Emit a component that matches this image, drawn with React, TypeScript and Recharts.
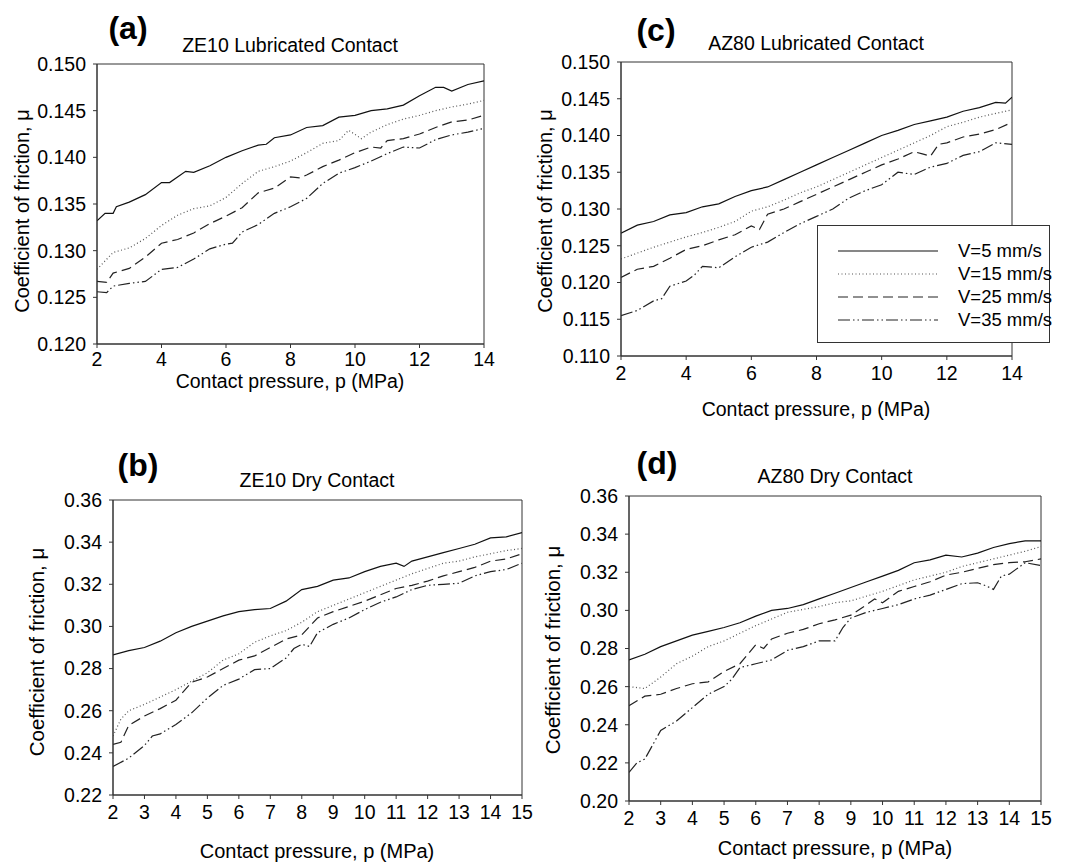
import React from 'react';
import { LineChart, Line, XAxis, YAxis, ReferenceArea, Legend } from 'recharts';

type Pt = [number, number];

// ---------- Series names ----------
const SERIES_NAMES = ['V=5 mm/s', 'V=15 mm/s', 'V=25 mm/s', 'V=35 mm/s'];

// ---------- (a) ZE10 Lubricated ----------
const A_V5: Pt[] = [[2,.1332],[2.25,.1340],[2.5,.1340],[2.6,.1347],[3,.1352],[3.5,.1360],[4,.1373],[4.25,.1373],[4.75,.1385],[5,.1384],[5.5,.1391],[6,.1400],[6.5,.1407],[7,.1413],[7.25,.1414],[7.5,.1421],[8,.1424],[8.5,.1432],[9,.1434],[9.5,.1443],[10,.1445],[10.5,.1450],[11,.1452],[11.5,.1456],[12,.1466],[12.5,.1475],[12.75,.1475],[13,.1471],[13.5,.1478],[14,.1482]];
const A_V15: Pt[] = [[2,.1280],[2.5,.1298],[3,.1303],[3.5,.1313],[4,.1327],[4.5,.1338],[5,.1345],[5.5,.1348],[6,.1357],[6.5,.1372],[7,.1385],[7.5,.1390],[8,.1396],[8.5,.1405],[9,.1415],[9.5,.1418],[9.8,.1429],[10.2,.1420],[10.5,.1427],[11,.1435],[11.5,.1441],[12,.1445],[12.5,.1450],[13,.1454],[13.5,.1457],[14,.1461]];
const A_V25: Pt[] = [[2,.1267],[2.3,.1266],[2.5,.1276],[3,.1281],[3.5,.1293],[4,.1308],[4.5,.1312],[5,.1319],[5.5,.1329],[6,.1337],[6.5,.1346],[7,.1362],[7.5,.1367],[8,.1379],[8.3,.1378],[8.5,.1381],[9,.1390],[9.5,.1397],[10,.1405],[10.5,.1411],[10.8,.1410],[11,.1418],[11.5,.1420],[12,.1425],[12.5,.1432],[13,.1438],[13.5,.1440],[14,.1445]];
const A_V35: Pt[] = [[2,.1256],[2.3,.1255],[2.5,.1262],[3,.1265],[3.5,.1267],[4,.1280],[4.5,.1282],[5,.1291],[5.5,.1302],[6,.1307],[6.2,.1308],[6.5,.1320],[7,.1328],[7.5,.1340],[8,.1347],[8.5,.1356],[9,.1372],[9.5,.1383],[10,.1389],[10.5,.1396],[11,.1404],[11.5,.1411],[12,.1410],[12.5,.1419],[13,.1424],[13.5,.1427],[14,.1431]];

// ---------- (c) AZ80 Lubricated ----------
const C_V5: Pt[] = [[2,.1267],[2.5,.1278],[3,.1283],[3.5,.1292],[4,.1295],[4.5,.1303],[5,.1307],[5.5,.1317],[6,.1325],[6.5,.1330],[7,.1340],[7.5,.1350],[8,.1360],[8.5,.1370],[9,.1380],[9.5,.1390],[10,.1400],[10.5,.1407],[11,.1415],[11.5,.1420],[12,.1425],[12.5,.1433],[13,.1438],[13.5,.1445],[13.8,.1444],[14,.1452]];
const C_V15: Pt[] = [[2,.1232],[2.5,.1240],[3,.1248],[3.5,.1255],[4,.1262],[4.5,.1268],[5,.1275],[5.5,.1283],[6,.1297],[6.5,.1303],[7,.1312],[7.5,.1322],[8,.1330],[8.5,.1340],[9,.1350],[9.5,.1360],[10,.1370],[10.5,.1380],[11,.1390],[11.5,.1400],[12,.1412],[12.5,.1418],[13,.1425],[13.5,.1430],[14,.1435]];
const C_V25: Pt[] = [[2,.1207],[2.5,.1218],[3,.1222],[3.5,.1233],[4,.1245],[4.5,.1250],[5,.1258],[5.5,.1265],[6,.1277],[6.25,.1272],[6.5,.1293],[7,.1300],[7.5,.1310],[8,.1320],[8.5,.1330],[9,.1340],[9.5,.1350],[10,.1360],[10.5,.1368],[11,.1378],[11.25,.1375],[11.5,.1372],[11.75,.1388],[12,.1390],[12.5,.1398],[13,.1402],[13.5,.1408],[14,.1418]];
const C_V35: Pt[] = [[2,.1155],[2.5,.1162],[3,.1175],[3.25,.1178],[3.5,.1195],[4,.1202],[4.25,.1210],[4.5,.1222],[5,.1220],[5.5,.1235],[6,.1248],[6.5,.1255],[7,.1268],[7.5,.1280],[8,.1290],[8.5,.1300],[9,.1315],[9.5,.1325],[10,.1333],[10.5,.1350],[11,.1347],[11.5,.1357],[12,.1362],[12.5,.1373],[13,.1378],[13.5,.1390],[14,.1388]];

// ---------- (b) ZE10 Dry ----------
const B_V5: Pt[] = [[2,.2865],[2.5,.2885],[3,.2900],[3.5,.2930],[4,.2970],[4.5,.3000],[5,.3025],[5.5,.3050],[6,.3070],[6.5,.3080],[7,.3085],[7.5,.3120],[8,.3175],[8.5,.3190],[9,.3220],[9.5,.3230],[10,.3260],[10.5,.3285],[11,.3300],[11.25,.3285],[11.5,.3310],[12,.3330],[12.5,.3350],[13,.3370],[13.5,.3390],[14,.3420],[14.5,.3425],[15,.3445]];
const B_V15: Pt[] = [[2,.2480],[2.25,.2560],[2.5,.2600],[3,.2630],[3.5,.2665],[4,.2700],[4.5,.2740],[5,.2780],[5.5,.2840],[6,.2870],[6.5,.2925],[7,.2955],[7.5,.2980],[8,.3020],[8.5,.3070],[9,.3100],[9.5,.3130],[10,.3160],[10.5,.3190],[11,.3220],[11.5,.3250],[12,.3275],[12.5,.3300],[13,.3310],[13.5,.3330],[14,.3345],[14.5,.3360],[15,.3370]];
const B_V25: Pt[] = [[2,.2440],[2.25,.2450],[2.5,.2530],[3,.2575],[3.5,.2610],[4,.2650],[4.5,.2735],[5,.2760],[5.5,.2800],[6,.2840],[6.5,.2860],[7,.2900],[7.5,.2940],[8,.2960],[8.5,.3040],[9,.3070],[9.5,.3095],[10,.3120],[10.5,.3150],[11,.3180],[11.5,.3195],[12,.3215],[12.5,.3240],[13,.3260],[13.5,.3280],[14,.3310],[14.5,.3320],[15,.3345]];
const B_V35: Pt[] = [[2,.2335],[2.5,.2375],[3,.2435],[3.25,.2480],[3.5,.2490],[4,.2535],[4.5,.2590],[5,.2660],[5.5,.2720],[6,.2750],[6.5,.2795],[7,.2800],[7.5,.2850],[7.75,.2895],[8,.2915],[8.25,.2905],[8.5,.2970],[9,.3010],[9.5,.3040],[10,.3080],[10.5,.3115],[11,.3140],[11.5,.3175],[12,.3195],[12.5,.3200],[13,.3205],[13.5,.3240],[14,.3260],[14.5,.3270],[15,.3300]];

// ---------- (d) AZ80 Dry ----------
const D_V5: Pt[] = [[2,.2740],[2.5,.2770],[3,.2810],[3.5,.2840],[4,.2870],[4.5,.2890],[5,.2910],[5.5,.2935],[6,.2970],[6.5,.3000],[7,.3010],[7.5,.3030],[8,.3060],[8.5,.3090],[9,.3120],[9.5,.3150],[10,.3180],[10.5,.3210],[11,.3250],[11.5,.3265],[12,.3290],[12.5,.3280],[13,.3300],[13.5,.3330],[14,.3350],[14.5,.3365],[15,.3365]];
const D_V15: Pt[] = [[2,.2600],[2.5,.2590],[3,.2650],[3.5,.2720],[4,.2760],[4.5,.2810],[5,.2840],[5.5,.2880],[6,.2920],[6.5,.2955],[7,.2990],[7.5,.3005],[8,.3020],[8.5,.3040],[9,.3050],[9.5,.3075],[10,.3100],[10.5,.3130],[11,.3160],[11.5,.3180],[12,.3200],[12.5,.3230],[13,.3250],[13.5,.3270],[14,.3290],[14.5,.3310],[15,.3335]];
const D_V25: Pt[] = [[2,.2500],[2.5,.2550],[3,.2560],[3.5,.2590],[4,.2615],[4.5,.2625],[5,.2680],[5.5,.2720],[5.75,.2770],[6,.2820],[6.25,.2800],[6.5,.2850],[7,.2880],[7.5,.2900],[8,.2930],[8.5,.2950],[9,.2975],[9.5,.3030],[9.75,.3060],[10,.3040],[10.5,.3100],[11,.3125],[11.5,.3150],[12,.3185],[12.5,.3200],[13,.3220],[13.5,.3240],[14,.3250],[14.5,.3255],[15,.3270]];
const D_V35: Pt[] = [[2,.2150],[2.25,.2200],[2.5,.2220],[3,.2370],[3.5,.2420],[4,.2490],[4.5,.2560],[5,.2600],[5.25,.2640],[5.5,.2700],[6,.2720],[6.5,.2740],[7,.2790],[7.5,.2810],[8,.2840],[8.5,.2840],[8.75,.2910],[9,.2960],[9.5,.2990],[10,.3010],[10.5,.3030],[11,.3060],[11.5,.3080],[12,.3110],[12.5,.3140],[13,.3145],[13.25,.3130],[13.5,.3110],[13.75,.3180],[14,.3190],[14.5,.3250],[15,.3235]];

// ---------- Tick labels ----------
const X_TICKS_LUB = [2, 4, 6, 8, 10, 12, 14];
const X_TICKS_DRY = [2, 3, 4, 5, 6, 7, 8, 9, 10, 11, 12, 13, 14, 15];
const Y_TICKS_A = [0.12, 0.125, 0.13, 0.135, 0.14, 0.145, 0.15];
const Y_TICKS_C = [0.11, 0.115, 0.12, 0.125, 0.13, 0.135, 0.14, 0.145, 0.15];
const Y_TICKS_B = [0.22, 0.24, 0.26, 0.28, 0.3, 0.32, 0.34, 0.36];
const Y_TICKS_D = [0.2, 0.22, 0.24, 0.26, 0.28, 0.3, 0.32, 0.34, 0.36];

const FONT = '"Liberation Sans", Arial, Helvetica, sans-serif';

const STYLES = [
  { stroke: '#111', dash: undefined as string | undefined, width: 1.2 },
  { stroke: '#555', dash: '1 2.5', width: 1.2 },
  { stroke: '#222', dash: '10 5', width: 1.2 },
  { stroke: '#222', dash: '12 3 1.5 3 1.5 3', width: 1.2 },
];

const toObj = (pts: Pt[]) => pts.map(([p, mu]) => ({ p, mu }));

type Rect = { x: number; y: number; w: number; h: number };

const LegendBox = () => (
  <div
    style={{
      width: 233,
      height: 118,
      boxSizing: 'border-box',
      border: '1px solid #333',
      background: '#fff',
      fontFamily: FONT,
      fontSize: 18.5,
      position: 'relative',
    }}
  >
    {SERIES_NAMES.map((n, i) => (
      <div key={n} style={{ position: 'absolute', left: 0, top: 14 + i * 23, height: 22, width: '100%' }}>
        <svg width={110} height={22} style={{ position: 'absolute', left: 16, top: 0 }}>
          <line
            x1={4}
            x2={104}
            y1={11}
            y2={11}
            stroke={STYLES[i].stroke}
            strokeWidth={STYLES[i].width}
            strokeDasharray={STYLES[i].dash}
          />
        </svg>
        <span style={{ position: 'absolute', left: 140, top: 1, lineHeight: '20px', whiteSpace: 'nowrap' }}>{n}</span>
      </div>
    ))}
  </div>
);

function Text({ x, y, size, bold, rotate, children }: any) {
  return (
    <div
      style={{
        position: 'absolute',
        left: x,
        top: y,
        transform: `translate(-50%, -50%)${rotate ? ' rotate(-90deg)' : ''}`,
        whiteSpace: 'nowrap',
        fontFamily: FONT,
        fontSize: size,
        fontWeight: bold ? 'bold' : 'normal',
        lineHeight: 1,
        color: '#000',
      }}
    >
      {children}
    </div>
  );
}

function Panel(props: {
  plot: Rect;
  xDomain: [number, number];
  xTicks: number[];
  yDomain: [number, number];
  yTicks: number[];
  yDigits: number;
  series: Pt[][];
  tickMargin: number;
  fontSize: number;
  legendAt?: { x: number; y: number };
}) {
  const { plot, xDomain, xTicks, yDomain, yTicks, yDigits, series, tickMargin, fontSize, legendAt } = props;
  const YW = 100;
  const XH = 50;
  const x0 = plot.x - YW;
  const y0 = plot.y - 10;
  const W = plot.w + YW + 50;
  const H = plot.h + 10 + XH;
  const tickStyle = { fill: '#000', fontSize, fontFamily: FONT };
  return (
    <div style={{ position: 'absolute', left: x0, top: y0 }}>
      <LineChart width={W} height={H} margin={{ top: 10, right: 50, bottom: 0, left: 0 }}>
        <XAxis
          dataKey="p"
          type="number"
          domain={xDomain}
          ticks={xTicks}
          allowDataOverflow
          height={XH}
          tickSize={4}
          tickMargin={tickMargin}
          tick={tickStyle}
          stroke="#333"
          interval={0}
        />
        <YAxis
          type="number"
          domain={yDomain}
          ticks={yTicks}
          allowDataOverflow
          width={YW}
          tickSize={4}
          tickMargin={7}
          tick={tickStyle}
          stroke="#333"
          interval={0}
          tickFormatter={(v: number) => v.toFixed(yDigits)}
        />
        <ReferenceArea
          x1={xDomain[0]}
          x2={xDomain[1]}
          y1={yDomain[0]}
          y2={yDomain[1]}
          fill="none"
          fillOpacity={0}
          stroke="#333"
          strokeWidth={1}
        />
        {series.map((s, i) => (
          <Line
            key={i}
            data={toObj(s)}
            dataKey="mu"
            name={SERIES_NAMES[i]}
            type="linear"
            dot={false}
            activeDot={false}
            isAnimationActive={false}
            stroke={STYLES[i].stroke}
            strokeWidth={STYLES[i].width}
            strokeDasharray={STYLES[i].dash}
          />
        ))}
        {legendAt && (
          <Legend
            layout="horizontal"
            align="center"
            verticalAlign="middle"
            content={() => <LegendBox />}
            wrapperStyle={{ left: legendAt.x - x0, top: legendAt.y - y0, width: 233, height: 118, margin: 0 }}
          />
        )}
      </LineChart>
    </div>
  );
}

export default function App() {
  const A: Rect = { x: 97, y: 64, w: 387, h: 280 };
  const C: Rect = { x: 621, y: 62, w: 391, h: 294 };
  const B: Rect = { x: 113, y: 500, w: 409, h: 295 };
  const D: Rect = { x: 629, y: 496, w: 412, h: 305 };
  return (
    <div style={{ position: 'absolute', left: 0, top: 0, width: 1075, height: 866, background: '#fff', overflow: 'hidden' }}>
      <Panel plot={A} xDomain={[2, 14]} xTicks={X_TICKS_LUB} yDomain={[0.12, 0.15]} yTicks={Y_TICKS_A} yDigits={3}
        series={[A_V5, A_V15, A_V25, A_V35]} tickMargin={4} fontSize={19.5} />
      <Panel plot={C} xDomain={[2, 14]} xTicks={X_TICKS_LUB} yDomain={[0.11, 0.15]} yTicks={Y_TICKS_C} yDigits={3}
        series={[C_V5, C_V15, C_V25, C_V35]} tickMargin={6} fontSize={19.5} legendAt={{ x: 817, y: 225 }} />
      <Panel plot={B} xDomain={[2, 15]} xTicks={X_TICKS_DRY} yDomain={[0.22, 0.36]} yTicks={Y_TICKS_B} yDigits={2}
        series={[B_V5, B_V15, B_V25, B_V35]} tickMargin={6} fontSize={19.5} />
      <Panel plot={D} xDomain={[2, 15]} xTicks={X_TICKS_DRY} yDomain={[0.2, 0.36]} yTicks={Y_TICKS_D} yDigits={2}
        series={[D_V5, D_V15, D_V25, D_V35]} tickMargin={6} fontSize={19.5} />

      {/* panel letters */}
      <Text x={128} y={28} size={32} bold>(a)</Text>
      <Text x={656} y={30} size={32} bold>(c)</Text>
      <Text x={138} y={465} size={32} bold>(b)</Text>
      <Text x={657} y={463} size={32} bold>(d)</Text>

      {/* titles */}
      <Text x={290} y={46} size={19.5}>ZE10 Lubricated Contact</Text>
      <Text x={816} y={44} size={19.5}>AZ80 Lubricated Contact</Text>
      <Text x={317} y={481} size={19.5}>ZE10 Dry Contact</Text>
      <Text x={835} y={477} size={19.5}>AZ80 Dry Contact</Text>

      {/* y titles */}
      <Text x={22} y={211} size={20} rotate>Coefficient of friction, μ</Text>
      <Text x={545} y={211} size={20} rotate>Coefficient of friction, μ</Text>
      <Text x={37} y={652} size={20.5} rotate>Coefficient of friction, μ</Text>
      <Text x={553} y={650} size={20.5} rotate>Coefficient of friction, μ</Text>

      {/* x titles */}
      <Text x={290} y={382} size={19.5}>Contact pressure, p (MPa)</Text>
      <Text x={816} y={410} size={19.5}>Contact pressure, p (MPa)</Text>
      <Text x={317} y={851} size={20}>Contact pressure, p (MPa)</Text>
      <Text x={835} y={848} size={20}>Contact pressure, p (MPa)</Text>
    </div>
  );
}
